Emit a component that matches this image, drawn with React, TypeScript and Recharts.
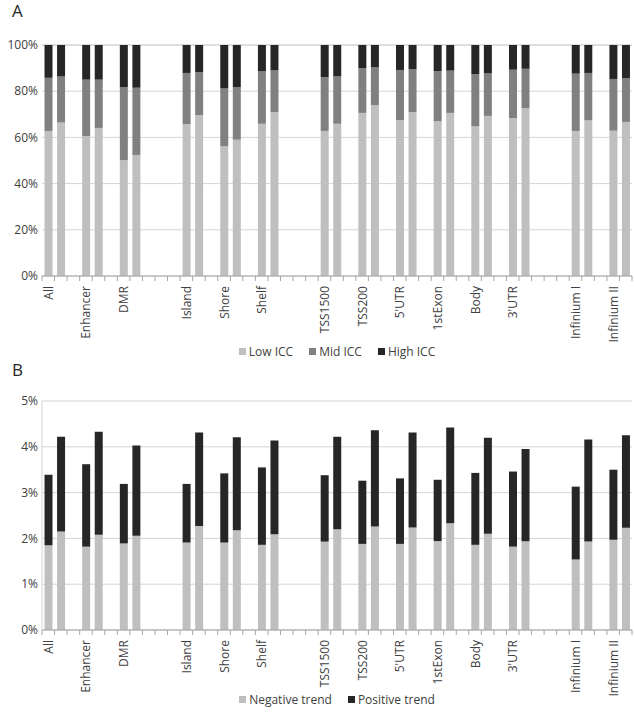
import { Bar, BarChart, CartesianGrid, XAxis, YAxis } from 'recharts';

const sections = [
  ['All', 'Enhancer', 'DMR'],
  ['Island', 'Shore', 'Shelf'],
  ['TSS1500', 'TSS200', "5'UTR", '1stExon', 'Body', "3'UTR"],
  ['Infinium I', 'Infinium II'],
];

// panel A, two bars per region, in percent
const lowICC = [62.8, 66.5, 60.6, 64.1, 50.2, 52.4, 65.8, 69.7, 56.1, 59.0, 65.9, 70.9, 62.8, 65.9, 70.6, 74.0, 67.5, 70.9, 67.0, 70.6, 64.8, 69.3, 68.3, 72.7, 62.8, 67.4, 62.9, 66.7];
const midICC = [23.0, 19.9, 24.4, 20.9, 31.5, 29.1, 22.1, 18.5, 25.1, 22.7, 22.7, 18.1, 23.3, 20.5, 19.4, 16.3, 21.7, 18.6, 21.7, 18.3, 22.6, 18.4, 21.0, 17.0, 24.8, 20.5, 22.4, 19.0];
const highICC = [14.2, 13.6, 15.0, 15.0, 18.3, 18.5, 12.1, 11.8, 18.8, 18.3, 11.4, 11.0, 13.9, 13.6, 10.0, 9.7, 10.8, 10.5, 11.3, 11.1, 12.6, 12.3, 10.7, 10.3, 12.4, 12.1, 14.7, 14.3];

// panel B
const negativeTrend = [1.85, 2.15, 1.82, 2.08, 1.89, 2.06, 1.91, 2.27, 1.91, 2.18, 1.86, 2.09, 1.93, 2.20, 1.88, 2.26, 1.88, 2.24, 1.94, 2.33, 1.86, 2.10, 1.82, 1.94, 1.54, 1.93, 1.97, 2.23];
const positiveTrend = [1.54, 2.07, 1.80, 2.25, 1.30, 1.97, 1.28, 2.04, 1.51, 2.03, 1.69, 2.05, 1.45, 2.02, 1.38, 2.10, 1.43, 2.07, 1.34, 2.09, 1.57, 2.10, 1.64, 2.01, 1.59, 2.23, 1.53, 2.02];

const ticksA = [0, 20, 40, 60, 80, 100];
const ticksB = [0, 1, 2, 3, 4, 5];

const LIGHT = '#bfbfbf';
const MID = '#808080';
const DARK = '#262626';
const TEXT = '#404040';
const GRID = '#d4d4d4';
const FONT = '"Open Sans", sans-serif';

const W = 634;
const PLOT_LEFT = 42;
const PLOT_RIGHT = 632;

type Row = { label: string; [k: string]: string | number | null };

const buildRows = (series: Record<string, number[]>): Row[] => {
  const rows: Row[] = [];
  const blank = (): Row => {
    const r: Row = { label: '' };
    Object.keys(series).forEach((k) => (r[k] = null));
    return r;
  };
  let bar = 0;
  sections.forEach((regions, si) => {
    regions.forEach((region, ri) => {
      for (let j = 0; j < 2; j++) {
        const r: Row = { label: j === 0 ? region : '' };
        Object.entries(series).forEach(([k, vals]) => (r[k] = vals[bar]));
        rows.push(r);
        bar++;
      }
      const lastRegion = si === sections.length - 1 && ri === regions.length - 1;
      if (!lastRegion) rows.push(blank());
    });
    if (si < sections.length - 1) {
      rows.push(blank());
      rows.push(blank());
    }
  });
  return rows;
};

const rowsA = buildRows({ low: lowICC, mid: midICC, high: highICC });
const rowsB = buildRows({ neg: negativeTrend, pos: positiveTrend });
const SLOT = (PLOT_RIGHT - PLOT_LEFT) / rowsA.length;

const makeTick = (axisY: number, count: number) => (props: any) => {
  const { x, payload, index } = props;
  const bx = x - SLOT / 2;
  const ty = axisY + 10;
  return (
    <g>
      <line x1={bx} x2={bx} y1={axisY} y2={axisY + 5} stroke="#a6a6a6" />
      {index === count - 1 && (
        <line x1={bx + SLOT} x2={bx + SLOT} y1={axisY} y2={axisY + 5} stroke="#a6a6a6" />
      )}
      {payload.value && (
        <text
          x={x}
          y={ty}
          transform={`rotate(-90, ${x}, ${ty})`}
          textAnchor="end"
          dominantBaseline="central"
          fill={TEXT}
          fontSize={12}
          fontFamily={FONT}
        >
          {payload.value}
        </text>
      )}
    </g>
  );
};

const LegendRow = ({ items, top }: { items: { name: string; color: string }[]; top: number }) => (
  <div
    style={{
      position: 'absolute',
      left: PLOT_LEFT,
      width: PLOT_RIGHT - PLOT_LEFT,
      top,
      display: 'flex',
      justifyContent: 'center',
      gap: 16,
      fontFamily: FONT,
      fontSize: 12,
      color: TEXT,
    }}
  >
    {items.map((it) => (
      <div key={it.name} style={{ display: 'flex', alignItems: 'center', gap: 3 }}>
        <span style={{ width: 7, height: 7, background: it.color, display: 'inline-block' }} />
        <span>{it.name}</span>
      </div>
    ))}
  </div>
);

const PanelLetter = ({ text, top }: { text: string; top: number }) => (
  <div
    style={{
      position: 'absolute',
      left: 12,
      top,
      fontFamily: FONT,
      fontSize: 17,
      lineHeight: '20px',
      color: '#262626',
    }}
  >
    {text}
  </div>
);

export default function App() {
  const topA = 45;
  const hA = 231;
  const topB = 41;
  const hB = 229;
  return (
    <div style={{ position: 'absolute', left: 0, top: 0, width: W, height: 714, background: '#fff' }}>
      <PanelLetter text="A" top={1} />
      <div style={{ position: 'absolute', left: 0, top: 0 }}>
        <BarChart
          width={W}
          height={topA + hA + 70}
          data={rowsA}
          margin={{ top: topA, right: W - PLOT_RIGHT, bottom: 0, left: 0 }}
          barCategoryGap="20%"
        >
          <CartesianGrid vertical={false} stroke={GRID} />
          <XAxis
            dataKey="label"
            interval={0}
            height={70}
            tickLine={false}
            axisLine={{ stroke: '#a6a6a6' }}
            tick={makeTick(topA + hA, rowsA.length)}
          />
          <YAxis
            width={PLOT_LEFT}
            domain={[0, 100]}
            ticks={ticksA}
            tickFormatter={(v) => `${v}%`}
            axisLine={false}
            tickLine={false}
            tickSize={0}
            tickMargin={4}
            tick={{ fill: TEXT, fontSize: 12, fontFamily: FONT }}
          />
          <Bar dataKey="low" stackId="a" fill={LIGHT} isAnimationActive={false} />
          <Bar dataKey="mid" stackId="a" fill={MID} isAnimationActive={false} />
          <Bar dataKey="high" stackId="a" fill={DARK} isAnimationActive={false} />
        </BarChart>
      </div>
      <LegendRow
        top={343}
        items={[
          { name: 'Low ICC', color: LIGHT },
          { name: 'Mid ICC', color: MID },
          { name: 'High ICC', color: DARK },
        ]}
      />

      <PanelLetter text="B" top={360} />
      <div style={{ position: 'absolute', left: 0, top: 360 }}>
        <BarChart
          width={W}
          height={topB + hB + 70}
          data={rowsB}
          margin={{ top: topB, right: W - PLOT_RIGHT, bottom: 0, left: 0 }}
          barCategoryGap="20%"
        >
          <CartesianGrid vertical={false} stroke={GRID} />
          <XAxis
            dataKey="label"
            interval={0}
            height={70}
            tickLine={false}
            axisLine={{ stroke: '#a6a6a6' }}
            tick={makeTick(topB + hB, rowsB.length)}
          />
          <YAxis
            width={PLOT_LEFT}
            domain={[0, 5]}
            ticks={ticksB}
            tickFormatter={(v) => `${v}%`}
            axisLine={{ stroke: GRID }}
            tickLine={false}
            tickSize={0}
            tickMargin={4}
            tick={{ fill: TEXT, fontSize: 12, fontFamily: FONT }}
          />
          <YAxis
            yAxisId="r"
            orientation="right"
            width={0}
            domain={[0, 5]}
            tick={false}
            tickLine={false}
            axisLine={{ stroke: GRID }}
          />
          <Bar dataKey="neg" stackId="b" fill={LIGHT} isAnimationActive={false} />
          <Bar dataKey="pos" stackId="b" fill={DARK} isAnimationActive={false} />
        </BarChart>
      </div>
      <LegendRow
        top={691}
        items={[
          { name: 'Negative trend', color: LIGHT },
          { name: 'Positive trend', color: DARK },
        ]}
      />
    </div>
  );
}
